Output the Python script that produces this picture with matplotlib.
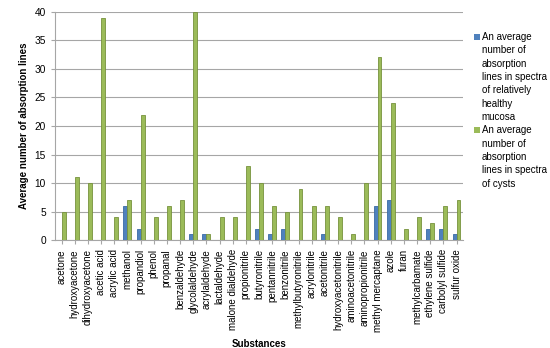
import numpy as np
import matplotlib
matplotlib.use('Agg')
import matplotlib.pyplot as plt
from matplotlib.patches import Rectangle

substances = ['acetone', 'hydroxyacetone', 'dihydroxyacetone', 'acetic acid', 'acrylic acid',
              'methanol', 'propandiol', 'phenol', 'propanal', 'benzaldehyde',
              'glycolaldehyde', 'acrylaldehyde', 'lactaldehyde', 'malone dialdehyde',
              'propionitrile', 'butyronitrile', 'pentannitrile', 'benzonitrile',
              'methylbutyronitrile', 'acrylonitrile', 'acetonitrile', 'hydroxyacetonitrile',
              'aminoacetonitrile', 'aminopropionitrile', 'methyl mercaptane', 'azole', 'furan',
              'methylcarbamate', 'ethylene sulfide', 'carbolyl sulfide', 'sulfur oxide']
healthy = [0, 0, 0, 0, 0, 6, 2, 0, 0, 0, 1, 1, 0, 0, 0, 2, 1, 2, 0, 0, 1, 0, 0, 0, 6, 7, 0, 0, 2, 2, 1]
cysts = [5, 11, 10, 39, 4, 7, 22, 4, 6, 7, 40, 1, 4, 4, 13, 10, 6, 5, 9, 6, 6, 4, 1, 10, 32, 24, 2, 4, 3, 6, 7]
series_names = ['An average\nnumber of\nabsorption\nlines in spectra\nof relatively\nhealthy\nmucosa',
                'An average\nnumber of\nabsorption\nlines in spectra\nof cysts']
colors = ['#4F81BD', '#9BBB59']
edges = ['#3A6BA5', '#76923C']

plt.rcParams['font.family'] = ['Liberation Sans', 'DejaVu Sans']

fig = plt.figure(figsize=(5.5, 3.48), dpi=100)
ax = fig.add_axes([0.1, 0.31, 0.742, 0.656])

x = np.arange(len(substances))
w = 0.3
ax.bar(x - w / 2, healthy, w, color=colors[0], edgecolor=edges[0], linewidth=0.6, zorder=3)
ax.bar(x + w / 2, cysts, w, color=colors[1], edgecolor=edges[1], linewidth=0.6, zorder=3)

ax.set_xlim(-0.5, len(substances) - 0.5)
ax.set_ylim(0, 40)
ax.set_yticks(range(0, 41, 5))
ax.yaxis.grid(True, color='#A6A6A6', linewidth=0.8, zorder=0)
ax.set_xticks(x)
ax.set_xticklabels(substances, rotation=90, fontsize=7)
ax.tick_params(axis='y', labelsize=7.3, length=3, color='#A6A6A6')
ax.tick_params(axis='x', length=3, color='#A6A6A6')
for s in ['top', 'right']:
    ax.spines[s].set_visible(False)
for s in ['left', 'bottom']:
    ax.spines[s].set_color('#A6A6A6')

ax.set_ylabel('Average number of absorption lines', fontsize=7, fontweight='bold')
ax.set_xlabel('Substances', fontsize=7, fontweight='bold')
ax.xaxis.set_label_coords(0.5, -0.435)

# legend drawn by hand so the marker sits by the first text line
legend_tops = [0.908, 0.64]
for name, col, top in zip(series_names, colors, legend_tops):
    fig.add_artist(Rectangle((0.861, top - 0.022), 0.011, 0.017, transform=fig.transFigure,
                             facecolor=col, edgecolor='none'))
    fig.text(0.876, top, name, fontsize=7, va='top', ha='left', linespacing=1.42)

fig.savefig('out.png', dpi=100)
